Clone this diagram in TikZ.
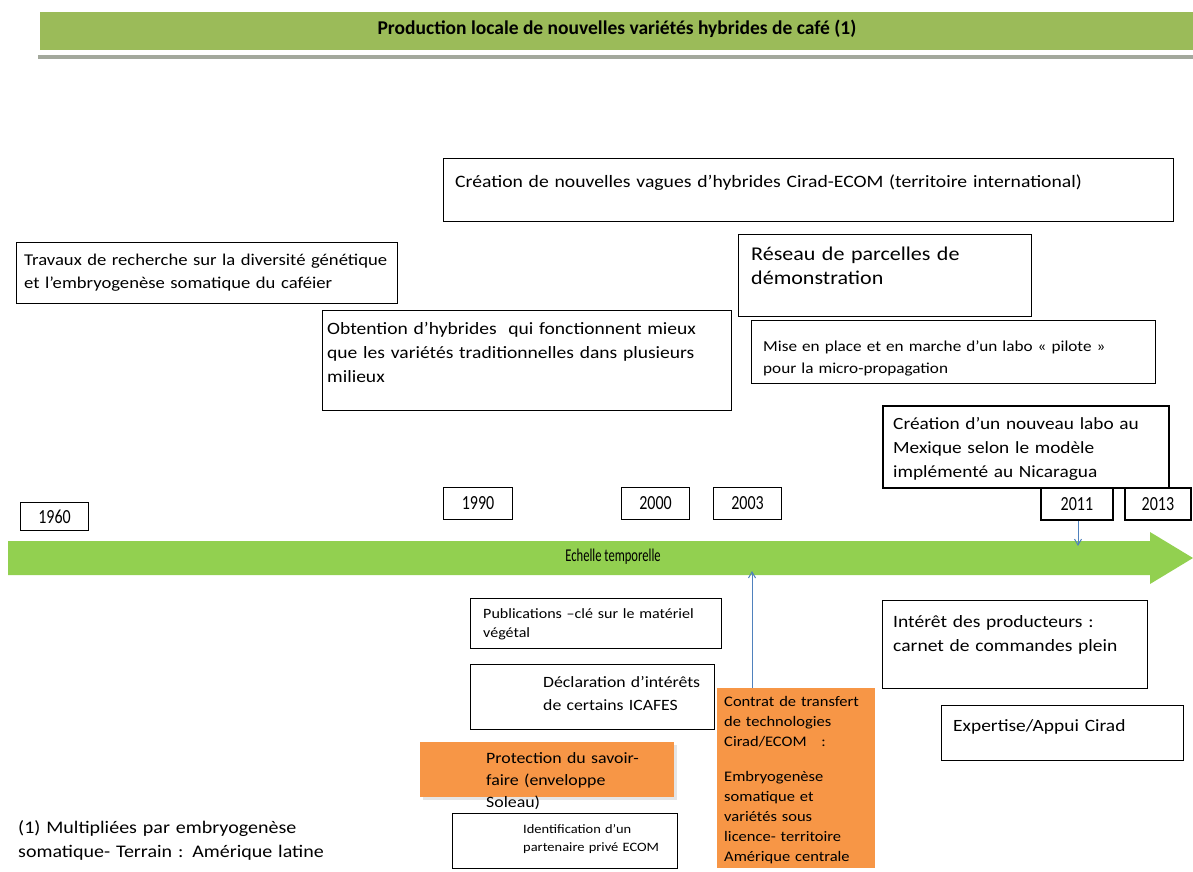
\documentclass[tikz,border=0pt]{standalone}
\usepackage{fontspec}
\setmainfont{Carlito}[FakeStretch=1.13]
\newfontfamily\titlefont{Carlito}
\newfontfamily\yearfont{Carlito}[FakeStretch=0.8]
\newfontfamily\axisfont{Carlito}[FakeStretch=0.7]
\usetikzlibrary{arrows.meta,shadows}
\newcommand{\fsz}[2]{\fontsize{#1}{#2}\selectfont}
\definecolor{bandgreen}{HTML}{9BBB59}
\definecolor{bandgray}{HTML}{A3A89C}
\definecolor{axisgreen}{HTML}{92D050}
\definecolor{boxorange}{HTML}{F79646}
\definecolor{arrowblue}{HTML}{4F81BD}
\begin{document}
\begin{tikzpicture}[x=1pt,y=-1pt,line join=miter,>={Straight Barb[length=6pt,width=7pt]}]
 \tikzset{box/.style={draw,line width=1.1pt,anchor=north west,inner sep=0pt},
 thickbox/.style={box,line width=1.8pt},
 orangebox/.style={fill=boxorange,anchor=north west,inner sep=0pt},
 txt/.style={anchor=base west,inner sep=0pt,align=left,text width=#1},
 txt/.default=400pt,
 year/.style={box,minimum height=32pt,font=\yearfont\fsz{20}{22}}
 }
 \useasboundingbox (0,0) rectangle (1193,871);
 \fill[bandgray] (38,55) rectangle (1193,59);
 \fill[bandgreen] (40,12) rectangle (1193,50);
 \node[font=\titlefont\bfseries\fsz{19.5}{22}] (title) at (617,29) {Production locale de nouvelles variétés hybrides de café (1)};
 \fill[axisgreen] (8,541)--(1150,541)--(1150,532)--(1193,558)--(1150,584)--(1150,575)--(8,575)--cycle;
 \node[font=\axisfont\fsz{18}{20}] (echelle) at (613,557) {Echelle temporelle};
 \node[box,minimum width=730pt,minimum height=63pt] (vagues) at (443,158) {};
 \node[txt=720pt,font=\fsz{17.4}{24}] (vaguestxt) at (455,187) {Création de nouvelles vagues d’hybrides Cirad-ECOM (territoire international)};
 \node[box,minimum width=381pt,minimum height=61pt] (travaux) at (16,242) {};
 \node[txt,font=\fsz{16.5}{23}] (travauxtxt) at (24,265) {Travaux de recherche sur la diversité génétique\\et l’embryogenèse somatique du caféier};
 \node[box,minimum width=293pt,minimum height=82pt] (reseau) at (738,234) {};
 \node[txt,font=\fsz{19.5}{24}] (reseautxt) at (751,260) {Réseau de parcelles de\\démonstration};
 \node[box,minimum width=409pt,minimum height=100pt] (obtention) at (322,310) {};
 \node[txt,font=\fsz{17.3}{24}] (obtentiontxt) at (327,334) {Obtention d’hybrides\ \ qui fonctionnent mieux\\que les variétés traditionnelles dans plusieurs\\milieux};
 \node[box,minimum width=404pt,minimum height=63pt] (mise) at (751,320) {};
 \node[txt,font=\fsz{15.2}{22}] (misetxt) at (763,351) {Mise en place et en marche d'un labo « pilote »\\pour la micro-propagation};
 \node[thickbox,minimum width=286pt,minimum height=82pt] (labo) at (882,405) {};
 \node[txt,font=\fsz{17.1}{24}] (labotxt) at (893,429) {Création d'un nouveau labo au\\Mexique selon le modèle\\implémenté au Nicaragua};
 \node[year,minimum width=68pt,minimum height=28pt] (y1960) at (20,502) {1960};
 \node[year,minimum width=69pt] (y1990) at (443,487) {1990};
 \node[year,minimum width=68pt] (y2000) at (621,487) {2000};
 \node[year,minimum width=68pt] (y2003) at (713,487) {2003};
 \node[year,thickbox,minimum width=72pt] (y2011) at (1040,487) {2011};
 \node[year,thickbox,minimum width=66pt] (y2013) at (1124,487) {2013};
 \node[box,minimum width=251pt,minimum height=50pt] (publi) at (470,598) {};
 \node[txt,font=\fsz{14.2}{19}] (publitxt) at (483,618) {Publications –clé sur le matériel\\végétal};
 \node[box,minimum width=244pt,minimum height=65pt] (declar) at (470,664) {};
 \node[txt,font=\fsz{15.7}{23}] (declartxt) at (543,687) {Déclaration d'intérêts\\de certains ICAFES};
 \node[orangebox,drop shadow={shadow xshift=3pt,shadow yshift=-3pt,fill=black!20},minimum width=254pt,minimum height=55pt] (protect) at (420,742) {};
 \node[txt,font=\fsz{15.8}{22}] (protecttxt) at (486,763) {Protection du savoir-\\faire (enveloppe\\Soleau)};
 \node[box,minimum width=225pt,minimum height=55pt] (ident) at (452,813) {};
 \node[txt,font=\fsz{12.8}{18}] (identtxt) at (523,833) {Identification d'un\\partenaire privé ECOM};
 \node[orangebox,minimum width=158pt,minimum height=180pt] (contrat) at (717,688) {};
 \node[txt,font=\fsz{14.6}{20}] (contrattxt) at (724,706) {Contrat de transfert\\de technologies\\Cirad/ECOM\ \ \ :\\[15pt]Embryogenèse\\somatique et\\variétés sous\\licence- territoire\\Amérique centrale};
 \node[box,minimum width=265pt,minimum height=88pt] (interet) at (882,600) {};
 \node[txt,font=\fsz{17.3}{24}] (interettxt) at (893,627) {Intérêt des producteurs :\\carnet de commandes plein};
 \node[box,minimum width=242pt,minimum height=55pt] (expert) at (941,705) {};
 \node[txt,font=\fsz{17.2}{24}] (experttxt) at (953,731) {Expertise/Appui Cirad};
 \node[txt,font=\fsz{17.7}{24}] (note) at (18,833) {(1) Multipliées par embryogenèse\\somatique- Terrain : Amérique latine};
 \coordinate (tip2011) at (1078,546);
 \coordinate (tip2003) at (752,571);
 \draw[arrowblue,line width=1pt,->] (y2011.south -| tip2011) -- (tip2011);
 \draw[arrowblue,line width=1pt,->] (contrat.north -| tip2003) -- (tip2003);
\end{tikzpicture}
\end{document}
